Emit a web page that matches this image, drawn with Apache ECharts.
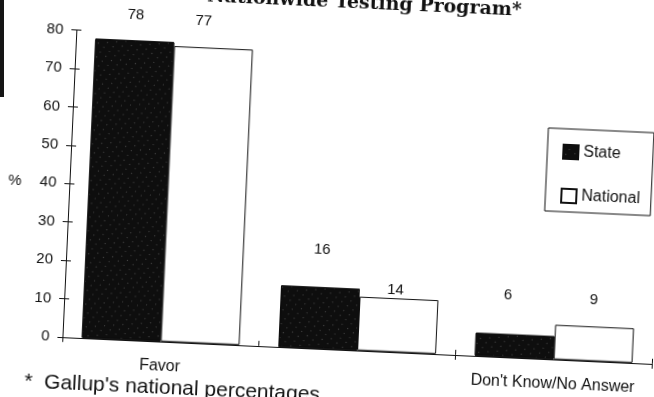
<!DOCTYPE html>
<html>
<head>
<meta charset="utf-8">
<script src="https://cdn.jsdelivr.net/npm/echarts@6/dist/echarts.min.js"></script>
<style>
  html, body { margin: 0; padding: 0; background: #fff; overflow: hidden; width: 654px; height: 397px; }
  #chart {
    position: absolute; left: -30px; top: -30px; width: 720px; height: 460px;
    transform-origin: 357px 228.5px; transform: rotate(2.6deg);
  }
  #edge { position: absolute; left: 0; top: 0; width: 4px; height: 97px; background: #151515; }
</style>
</head>
<body>
<div id="chart"></div>
<div id="edge"></div>
<script>
// Survey responses, in percent
const categories = ['Favor', 'Oppose', "Don't Know/No Answer"];
const stateValues = [78, 16, 6];
const nationalValues = [77, 14, 9];
const seriesNames = ['State', 'National'];
const yMin = 0, yMax = 80, yStep = 10;

// Hand placement of the value labels (distance above bar, x/y nudge)
const stateLabelPlace = [[18, 0, 0], [30, 0, 0], [31, -9, 0]];
const nationalLabelPlace = [[19, -11, 0], [1, -4, 0], [19, -2, 0]];

const FONT = '"Liberation Sans", Arial, Helvetica, sans-serif';

function withLabels(values, place) {
  return values.map((v, i) => ({
    value: v,
    label: { distance: place[i][0], offset: [place[i][1], place[i][2]] }
  }));
}

const chart = echarts.init(document.getElementById('chart'), null, { renderer: 'canvas' });

const gridBox = { left: 99, top: 71.6, width: 590, height: 307.2 };

chart.setOption({
  backgroundColor: '#fff',
  animation: false,
  grid: gridBox,
  legend: {
    data: seriesNames,
    orient: 'vertical',
    left: 575, top: 148,
    padding: [15, 11, 8, 15],
    itemGap: 28, itemWidth: 15, itemHeight: 14,
    icon: 'rect',
    borderColor: '#111', borderWidth: 1,
    textStyle: { fontFamily: FONT, fontSize: 16, color: '#111' }
  },
  xAxis: [{
    type: 'category', data: categories, position: 'bottom',
    boundaryGap: true,
    axisLine: { lineStyle: { color: '#111', width: 1 } },
    axisTick: { show: true, length: 5, lineStyle: { color: '#111' } },
    axisLabel: { fontFamily: FONT, fontSize: 16, color: '#111', margin: 17 }
  }, {
    type: 'category', data: categories, position: 'bottom',
    boundaryGap: true,
    axisLine: { show: false },
    axisTick: { show: true, inside: true, length: 5, lineStyle: { color: '#111' } },
    axisLabel: { show: false }
  }],
  yAxis: [{
    type: 'value', min: yMin, max: yMax, interval: yStep, position: 'left',
    name: '%', nameLocation: 'middle', nameRotate: 0, nameGap: 48,
    nameTextStyle: { fontFamily: FONT, fontSize: 15, color: '#111' },
    splitLine: { show: false },
    axisLine: { show: true, lineStyle: { color: '#111', width: 1 } },
    axisTick: { show: true, length: 5, lineStyle: { color: '#111' } },
    axisLabel: { fontFamily: FONT, fontSize: 15, color: '#111', margin: 13 }
  }, {
    type: 'value', min: yMin, max: yMax, interval: yStep, position: 'left',
    splitLine: { show: false },
    axisLine: { show: false },
    axisTick: { show: true, inside: true, length: 5, lineStyle: { color: '#111' } },
    axisLabel: { show: false }
  }],
  series: [{
    name: seriesNames[0], type: 'bar',
    barCategoryGap: '19.7%', barGap: '0%',
    data: withLabels(stateValues, stateLabelPlace),
    itemStyle: {
      color: '#0e0e0e', borderColor: '#0e0e0e', borderWidth: 1,
      decal: {
        symbol: 'rect', symbolSize: 1, color: 'rgba(190,190,190,0.35)',
        dashArrayX: [1, 6], dashArrayY: [1, 5], rotation: 0.6
      }
    },
    label: { show: true, position: 'top', fontFamily: FONT, fontSize: 15, color: '#111' }
  }, {
    name: seriesNames[1], type: 'bar',
    data: withLabels(nationalValues, nationalLabelPlace),
    itemStyle: { color: '#fff', borderColor: '#111', borderWidth: 1 },
    label: { show: true, position: 'top', fontFamily: FONT, fontSize: 15, color: '#111' }
  }],
  graphic: [{
    type: 'text', x: 543, y: 32,
    style: {
      text: 'Nationwide Testing Program*',
      font: 'bold 19px "DejaVu Serif", "Liberation Serif", serif',
      fill: '#111', align: 'right', verticalAlign: 'middle'
    }
  }, {
    type: 'text', left: 63, top: 415,
    style: {
      text: '*  Gallup\'s national percentages',
      font: '21px ' + FONT,
      fill: '#111'
    }
  }]
});
</script>
</body>
</html>
